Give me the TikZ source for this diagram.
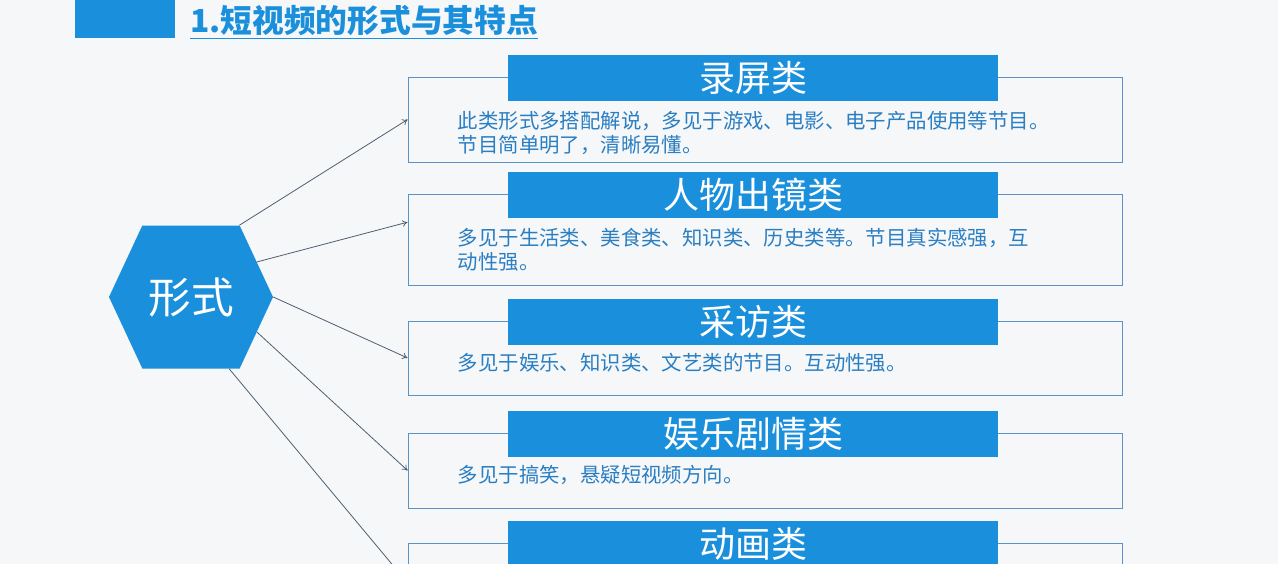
\documentclass[tikz,border=0pt]{standalone}
\usepackage{fontspec}
\setmainfont{Noto Sans CJK SC}
\usetikzlibrary{positioning,shapes.symbols,arrows.meta}
\definecolor{mainblue}{HTML}{1A8FDC}
\definecolor{textblue}{HTML}{2A7EC2}
\definecolor{framegray}{HTML}{5A93C4}
\definecolor{bggray}{HTML}{F6F7F9}
\definecolor{arrowgray}{HTML}{4E5F70}
\tikzset{
  outbox/.style={draw=framegray, line width=0.6pt, minimum width=535.5pt, inner sep=0pt},
  head/.style={fill=mainblue, text=white, minimum width=367.5pt, minimum height=34.5pt,
    inner sep=0pt, font=\fontsize{27}{30}\selectfont},
  body/.style={text=textblue, align=left, inner sep=0pt, font=\fontsize{15.3}{18}\selectfont},
  arr/.style={-{To[length=4pt,width=5pt]}, arrowgray, line width=0.6pt}
}
\begin{document}
\begin{tikzpicture}[x=0.75pt, y=-0.75pt]
  \useasboundingbox (0,0) rectangle (1278,564);
  \clip (0,0) rectangle (1278,564);
  \fill[bggray] (0,0) rectangle (1278,564);
  % Title
  \fill[mainblue] (75,-5) rectangle (175,38);
  \node[anchor=west, inner sep=0pt, text=mainblue, font=\fontsize{23.8}{26}\selectfont\bfseries]
    (title) at (190,21) {1.短视频的形式与其特点};
  \draw[mainblue, line width=1pt] ([yshift=-1.5pt]title.south west) -- ([yshift=-1.5pt]title.south east);
  % Hexagon
  \node[signal, signal to=west and east, signal pointer angle=130, minimum width=123pt,
    minimum height=107.25pt, inner sep=0pt, fill=mainblue, text=white,
    font=\fontsize{32}{34}\selectfont] (form) at (191,297) {形式};
  % Boxes
  \node[outbox, minimum height=63.75pt] (b1) at (765,119.5) {};
  \node[outbox, minimum height=68.25pt] (b2) at (765,239.5) {};
  \node[outbox, minimum height=55.5pt] (b3) at (765,358) {};
  \node[outbox, minimum height=56.25pt] (b4) at (765,470.5) {};
  \node[outbox, minimum height=60pt] (b5) at (765,583) {};
  % Headers
  \node[head] (h1) at ([xshift=-9pt,yshift=-1pt]b1.north) {录屏类};
  \node[head] (h2) at ([xshift=-9pt,yshift=-1pt]b2.north) {人物出镜类};
  \node[head] (h3) at ([xshift=-9pt,yshift=-1pt]b3.north) {采访类};
  \node[head] (h4) at ([xshift=-9pt,yshift=-1pt]b4.north) {娱乐剧情类};
  \node[head] (h5) at ([xshift=-9pt,yshift=-1pt]b5.north) {动画类};
  % Texts
  \node[body, below right=26pt and 37.5pt of b1.north west] (t1)
    {此类形式多搭配解说，多见于游戏、电影、电子产品使用等节目。\\节目简单明了，清晰易懂。};
  \node[body, below right=26pt and 37.5pt of b2.north west] (t2)
    {多见于生活类、美食类、知识类、历史类等。节目真实感强，互\\动性强。};
  \node[body, below right=24pt and 37.5pt of b3.north west] (t3)
    {多见于娱乐、知识类、文艺类的节目。互动性强。};
  \node[body, below right=24pt and 37.5pt of b4.north west] (t4)
    {多见于搞笑，悬疑短视频方向。};
  % Arrows
  \draw[arr] (form.56) -- (b1.west);
  \draw[arr] (form.28) -- ([yshift=13pt]b2.west);
  \draw[arr] (form.0) -- (b3.west);
  \draw[arr] (form.-28) -- (b4.west);
  \draw[arr] (form.-62) -- (b5.west);
\end{tikzpicture}
\end{document}
